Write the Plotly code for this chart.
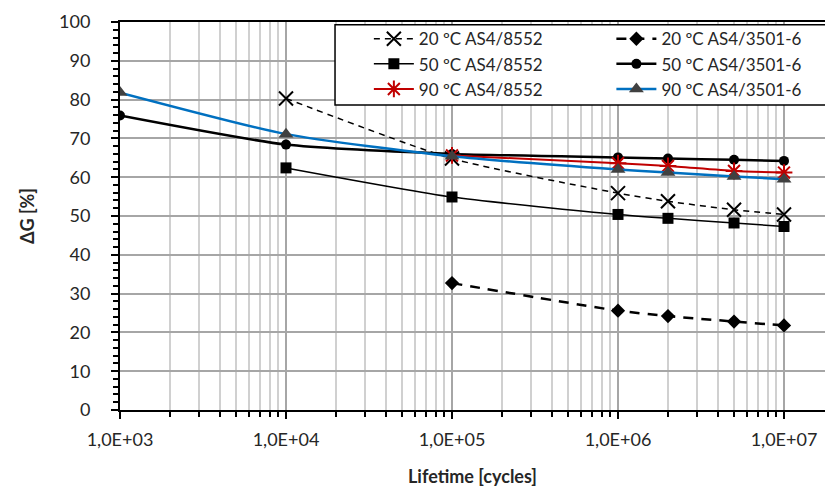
import plotly.graph_objects as go

cycles_a = [1e4, 1e5, 1e6, 2e6, 5e6, 1e7]
cycles_b = [1e5, 1e6, 2e6, 5e6, 1e7]
cycles_c = [1e3, 1e4, 1e5, 1e6, 2e6, 5e6, 1e7]

g20_8552 = [80.3, 64.8, 55.9, 53.8, 51.6, 50.4]
g20_3501 = [32.7, 25.6, 24.2, 22.8, 21.8]
g50_8552 = [62.4, 54.9, 50.4, 49.4, 48.2, 47.3]
g50_3501 = [75.9, 68.4, 66.0, 65.1, 64.8, 64.5, 64.2]
g90_8552 = [65.6, 63.6, 62.9, 61.6, 61.2]
g90_3501 = [81.8, 71.1, 65.4, 62.0, 61.2, 60.2, 59.5]

xtick_vals = [1e3, 1e4, 1e5, 1e6, 1e7]
xtick_text = ["1,0E+03", "1,0E+04", "1,0E+05", "1,0E+06", "1,0E+07"]

FONT = "Lato, 'Open Sans', sans-serif"
TXT = "#262626"

fig = go.Figure()

def add(x, y, name, legend, color, width, dash, symbol, msize, mcolor, mline=0, mlinecolor=None):
    fig.add_trace(go.Scatter(
        x=x, y=y, name=name, mode="lines+markers", legend=legend,
        line=dict(color=color, width=width, dash=dash, shape="spline", smoothing=0.6),
        marker=dict(symbol=symbol, size=msize, color=mcolor,
                    line=dict(width=mline, color=mlinecolor or mcolor)),
    ))

add(cycles_a, g20_8552, "20 ºC AS4/8552", "legend", "black", 1.5, "6px,5px", "x-thin-open", 14, "black", 2, "black")
add(cycles_b, g20_3501, "20 ºC AS4/3501-6", "legend2", "black", 2.5, "10px,8px", "diamond", 11, "black")
add(cycles_a, g50_8552, "50 ºC AS4/8552", "legend", "black", 1.5, "solid", "square", 11, "black")
add(cycles_c, g50_3501, "50 ºC AS4/3501-6", "legend2", "black", 2.5, "solid", "circle", 10, "black")
add(cycles_b, g90_8552, "90 ºC AS4/8552", "legend", "#C00000", 2, "solid", "asterisk-open", 14, "#C00000", 2, "#C00000")
add(cycles_c, g90_3501, "90 ºC AS4/3501-6", "legend2", "#0070C0", 2.5, "solid", "triangle-up", 13, "#404040")

leg_common = dict(
    orientation="v", yanchor="top", xanchor="left",
    bgcolor="rgba(0,0,0,0)", borderwidth=0,
    font=dict(family=FONT, size=17, color=TXT),
    tracegroupgap=0, itemwidth=40,
)

fig.update_layout(
    width=825, height=489,
    margin=dict(l=120, r=0, t=22, b=79),
    paper_bgcolor="white", plot_bgcolor="white",
    font=dict(family=FONT, size=18, color=TXT),
    showlegend=True,
    legend=dict(x=0.353, y=1.002, **leg_common),
    legend2=dict(x=0.697, y=1.002, **leg_common),
    shapes=[dict(type="rect", xref="paper", yref="paper", x0=0.305, x1=1.02, y0=0.786, y1=0.993,
                 line=dict(color="black", width=1.5), fillcolor="white", layer="above")],
    xaxis=dict(
        type="log", range=[3, 7.247],
        tickmode="array", tickvals=xtick_vals, ticktext=xtick_text,
        ticks="outside", ticklen=7, tickwidth=2, tickcolor="black",
        ticklabelstandoff=5,
        showline=True, linecolor="black", linewidth=2, mirror=True,
        showgrid=True, gridcolor="#a6a6a6", gridwidth=1.5,
        minor=dict(dtick="D1", ticks="outside", ticklen=5, tickwidth=2, tickcolor="black",
                   showgrid=True, gridcolor="#d0d0d0", gridwidth=1.5),
        title=dict(text="<b>Lifetime [cycles]</b>", font=dict(family=FONT, size=18, color=TXT), standoff=22),
        tickfont=dict(family=FONT, size=18, color=TXT),
        zeroline=False,
    ),
    yaxis=dict(
        range=[0, 100], dtick=10,
        ticks="outside", ticklen=7, tickwidth=2, tickcolor="black",
        ticklabelstandoff=17,
        showline=True, linecolor="black", linewidth=2,
        showgrid=True, gridcolor="#a6a6a6", gridwidth=1.5,
        minor=dict(dtick=2, ticks="outside", ticklen=5, tickwidth=2, tickcolor="black", showgrid=False),
        title=dict(text="<b>ΔG [%]</b>", font=dict(family=FONT, size=18, color=TXT), standoff=20),
        tickfont=dict(family=FONT, size=18, color=TXT),
        zeroline=False,
    ),
)

fig.write_html("out.html", config={"displayModeBar": False},
               post_script="document.body.style.margin='0';document.body.style.overflow='hidden';")
